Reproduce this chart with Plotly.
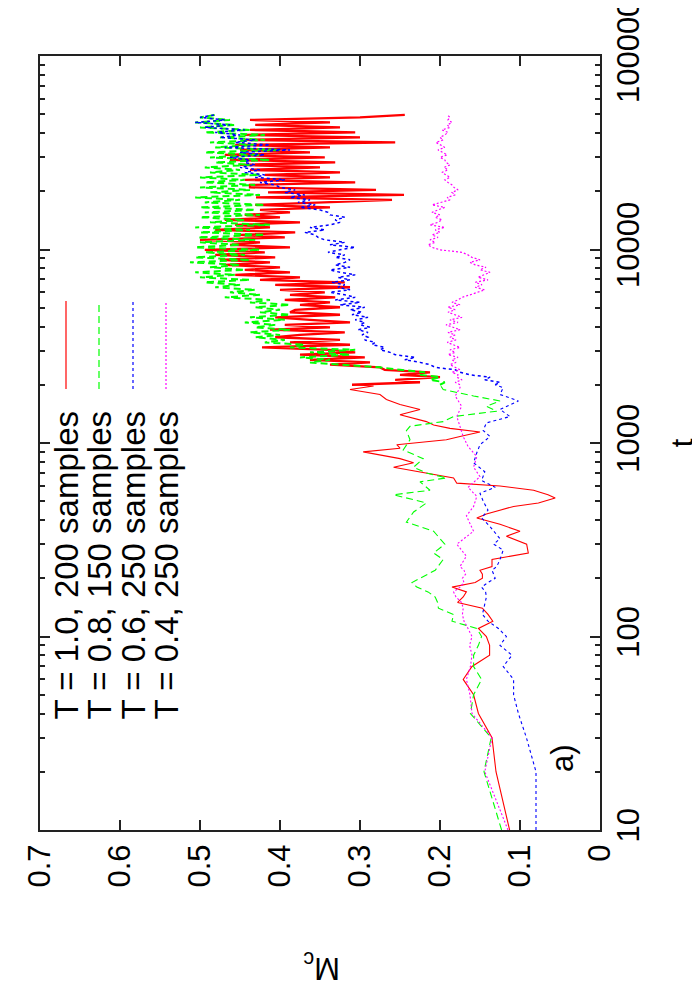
import plotly.graph_objects as go

# ---------------- data ----------------
T_LOW = [10, 20, 30, 40, 50, 60, 70, 80, 90, 100, 110, 120, 130, 140, 150, 160,
         170, 180, 190, 200, 210, 220]

T_HI = [2000, 2060, 2120, 2190, 2250, 2320, 2390, 2460, 2540, 2610,
        2690, 2770, 2860, 2940, 3030, 3120, 3220, 3310, 3410, 3520,
        3620, 3730, 3850, 3960, 4080, 4200, 4330, 4460, 4600, 4740,
        4880, 5030, 5180, 5330, 5490, 5660, 5830, 6010, 6190, 6380,
        6570, 6770, 6970, 7180, 7400, 7620, 7850, 8090, 8330, 8580,
        8840, 9110, 9380, 9670, 9960, 10260, 10570, 10890, 11220, 11550,
        11900, 12260, 12630, 13010, 13410, 13810, 14230, 14660, 15100, 15550,
        16020, 16510, 17010, 17520, 18050, 18590, 19150, 19730, 20330, 20940,
        21570, 22220, 22900, 23590, 24300, 25030, 25790, 26570, 27370, 28190,
        29050, 29920, 30830, 31760, 32710, 33700, 34720, 35770, 36850, 37960,
        39110, 40290, 41500, 42750, 44050, 45370, 46740, 48160, 49610]

# T = 1.0, 200 samples (red)
RED_LOW = [.113, .130, .135, .152, .158, .171, .160, .138, .138, .142, .152, .134,
           .140, .147, .178, .171, .167, .185, .156, .147, .147, .150]
RED_MID_T = [230, 250, 270, 300, 330, 350, 380, 410, 430, 470,
             490, 520, 540, 570, 600, 620, 660, 700, 750, 790,
             830, 900, 940, 980, 1040, 1080, 1140, 1190, 1240, 1290,
             1350, 1400, 1490, 1580, 1680, 1780, 1890, 1970]
RED_MID = [.135, .135, .0896, .0917, .117, .10, .125, .154, .142, .108,
           .077, .056, .065, .083, .125, .179, .183, .217, .258, .233,
           .25, .296, .25, .254, .192, .175, .15, .1875, .208, .217,
           .2375, .25, .225, .25, .267, .275, .3125, .283]
RED_HI = [.31, .225, .256, .20, .25, .2125, .269, .275, .3375, .2875,
          .3625, .294, .375, .306, .3375, .4225, .3125, .3875, .325, .406,
          .375, .319, .4125, .3375, .394, .3125, .3625, .406, .325, .3875,
          .381, .325, .375, .3375, .394, .331, .3875, .344, .40, .3125,
          .406, .319, .425, .375, .456, .3875, .444, .40, .469, .4125,
          .475, .406, .481, .419, .494, .3875, .4625, .425, .50, .394,
          .45, .381, .481, .4125, .456, .375, .469, .40, .444, .3875,
          .425, .3375, .431, .35, .26, .43, .245, .415, .28, .4375,
          .4375, .306, .444, .3375, .419, .325, .4375, .35, .45, .331,
          .4625, .344, .469, .3625, .45, .3375, .456, .256, .444, .30,
          .444, .306, .4375, .325, .431, .3375, .4375, .30, .244]

# T = 0.8, 150 samples (green)
GREEN_LOW = [.123, .145, .136, .162, .158, .148, .158, .158, .152, .148, .154, .185,
             .183, .202, .203, .206, .215, .229, .235, .225, .217, .206]
GREEN_MID_T = [250, 270, 300, 350, 390, 440, 490, 540, 570, 630,
               660, 700, 750, 830, 920, 1040, 1160, 1220, 1290, 1370,
               1460, 1550, 1650, 1750, 1890]
GREEN_MID = [.196, .208, .194, .208, .242, .233, .217, .258, .2125, .225,
             .192, .217, .233, .221, .246, .2375, .242, .2375, .196, .183,
             .129, .142, .125, .158, .196]
GREEN_HI = [.20, .194, .2125, .20, .225, .219, .25, .275, .325, .3625,
            .3375, .375, .3125, .3625, .306, .3875, .369, .419, .394, .431,
            .40, .4375, .3875, .431, .406, .444, .394, .4375, .3875, .425,
            .40, .431, .3875, .4375, .4125, .469, .425, .4625, .431, .481,
            .45, .494, .4375, .50, .456, .506, .444, .4875, .45, .5125,
            .4375, .506, .444, .494, .425, .506, .45, .50, .431, .5025,
            .419, .50, .4375, .506, .4125, .4875, .444, .50, .425, .494,
            .431, .50, .419, .494, .45, .506, .425, .4875, .4375, .50,
            .431, .494, .444, .50, .425, .4875, .45, .494, .4375, .481,
            .4125, .4875, .425, .494, .40, .481, .431, .4875, .419, .475,
            .419, .494, .4375, .50, .456, .506, .4625, .50, .481]

# T = 0.6, 250 samples (blue)
BLUE_LOW = [.080, .080, .092, .102, .108, .108, .121, .110, .125, .117, .127, .140,
            .147, .145, .144, .142, .143, .148, .140, .131, .133, .135]
BLUE_MID_T = [230, 250, 280, 300, 320, 370, 410, 450, 500, 550,
              590, 640, 710, 790, 890, 980, 1080, 1160, 1270, 1370,
              1490, 1650, 1780, 1930]
BLUE_MID = [.129, .125, .121, .133, .125, .1375, .148, .14, .146, .15,
            .131, .148, .144, .158, .154, .15, .1375, .146, .142, .1125,
            .125, .102, .125, .121]
BLUE_HI = [.131, .125, .144, .1375, .1625, .175, .181, .206, .2125, .225,
           .244, .231, .256, .2625, .275, .269, .285, .281, .294, .29,
           .2975, .29, .3025, .2875, .30, .294, .306, .29, .31, .2975,
           .3125, .294, .325, .30, .331, .306, .319, .3375, .3125, .3275,
           .319, .335, .3125, .3275, .306, .325, .3375, .3125, .331, .319,
           .3125, .331, .319, .34, .325, .306, .3375, .319, .344, .3525,
           .356, .369, .344, .3625, .3375, .325, .331, .319, .3375, .34,
           .35, .375, .356, .3775, .3625, .3875, .369, .394, .381, .40,
           .406, .425, .394, .431, .419, .444, .425, .45, .431, .444,
           .4375, .4625, .419, .45, .3875, .469, .4125, .456, .431, .475,
           .45, .481, .444, .494, .4625, .506, .469, .50, .481]

# T = 0.4, 250 samples (magenta)
MAG_LOW = [.115, .144, .135, .160, .1625, .167, .162, .160, .163, .160, .165, .170,
           .172, .171, .173, .180, .183, .175, .170, .172, .168, .170]
MAG_MID_T = [230, 260, 300, 350, 420, 470, 530, 590, 670, 750,
             850, 960, 1080, 1210, 1370, 1550, 1750, 1930]
MAG_MID = [.175, .167, .179, .158, .167, .158, .154, .165, .15, .158,
           .154, .165, .171, .175, .179, .173, .181, .175]
MAG_HI = [.175, .181, .1725, .179, .1775, .185, .175, .181, .1875, .18,
          .185, .1775, .19, .181, .1875, .175, .184, .191, .18, .1875,
          .181, .19, .175, .185, .1925, .1775, .1875, .1725, .181, .19,
          .181, .19, .175, .185, .1775, .1725, .1625, .1525, .144, .156,
          .1475, .156, .14, .1525, .144, .1375, .15, .1425, .156, .1625,
          .15, .16, .165, .1725, .20, .21, .215, .206, .2125, .2025,
          .21, .20, .206, .194, .2125, .2025, .1975, .206, .20, .21,
          .2025, .194, .21, .20, .1875, .191, .181, .185, .1775, .1825,
          .185, .19, .194, .1875, .1925, .1975, .19, .195, .1875, .1925,
          .194, .20, .191, .1975, .2025, .194, .20, .205, .196, .20,
          .194, .19, .1975, .1875, .191, .185, .19, .1875, .191]

LABELS = ["T = 1.0, 200 samples", "T = 0.8, 150 samples",
          "T = 0.6, 250 samples", "T = 0.4, 250 samples"]

X_TICKS = [0, 0.1, 0.2, 0.3, 0.4, 0.5, 0.6, 0.7]
X_TICK_TEXT = ["0", "0.1", "0.2", "0.3", "0.4", "0.5", "0.6", "0.7"]
Y_TICKS = [10, 100, 1000, 10000, 100000]
Y_TICK_TEXT = ["10", "100", "1000", "10000", "100000"]
Y_MINOR = [20, 30, 40, 50, 60, 70, 80, 90,
           200, 300, 400, 500, 600, 700, 800, 900,
           2000, 3000, 4000, 5000, 6000, 7000, 8000, 9000,
           20000, 30000, 40000, 50000, 60000, 70000, 80000, 90000]

# ---------------- figure ----------------
# the page body has an 8px margin: the figure is made 8px smaller per side
OFF = 8
W, H = 700 - OFF, 1000 - 2 * OFF
FL, FT, FR, FB = 40, 56, 600, 830        # frame edges in window pixels
ML, MT = FL - OFF, FT - OFF
MR = W - (FR - OFF)
MB = H - (FB - OFF)
PW, PH = FR - FL, FB - FT


def px(xw):
    return (xw - FL) / PW


def py(yw):
    return (FB - yw) / PH


RED, GREEN, BLUE, MAG = "#ff0000", "#00ff00", "#0000ff", "#ff00ff"
series = [
    (RED_LOW, RED_MID_T, RED_MID, RED_HI, RED, "solid", 2.3),
    (GREEN_LOW, GREEN_MID_T, GREEN_MID, GREEN_HI, GREEN, "7px,4px", 2.0),
    (BLUE_LOW, BLUE_MID_T, BLUE_MID, BLUE_HI, BLUE, "3px,3px", 1.5),
    (MAG_LOW, MAG_MID_T, MAG_MID, MAG_HI, MAG, "2px,2px", 1.2),
]

fig = go.Figure()
for (lo, mt, mv, hi, col, dash, whi), name in zip(series, LABELS):
    # early part (sparse, thin) joined to the first point of the dense part
    fig.add_trace(go.Scatter(x=lo + mv + hi[:1], y=T_LOW + mt + T_HI[:1],
                             mode="lines", name=name,
                             line=dict(color=col, width=1.1, dash=dash)))
    # dense late part
    fig.add_trace(go.Scatter(x=hi, y=T_HI, mode="lines", name=name,
                             line=dict(color=col, width=whi, dash=dash)))

FONT = "Liberation Sans, Arial, Helvetica, sans-serif"
FS = 31
axis_col = "#222222"

fig.update_layout(
    width=W, height=H,
    margin=dict(l=ML, r=MR, t=MT, b=MB, pad=0),
    plot_bgcolor="white", paper_bgcolor="white",
    showlegend=False,
    font=dict(family=FONT, size=FS, color="black"),
    xaxis=dict(range=[0.7, 0], tickvals=X_TICKS, ticktext=X_TICK_TEXT,
               tickangle=-90, ticks="inside", ticklen=10, tickwidth=1.5,
               tickcolor=axis_col, showline=True, linewidth=2,
               linecolor=axis_col, mirror="allticks", showgrid=False,
               zeroline=False, automargin=False, ticklabeloverflow="allow",
               tickfont=dict(size=FS, family=FONT, color="black")),
    yaxis=dict(type="log", range=[1, 5], side="right", tickvals=Y_TICKS,
               ticktext=Y_TICK_TEXT, tickangle=-90, ticks="inside",
               ticklen=10, tickwidth=1.5, tickcolor=axis_col,
               showline=True, linewidth=2, linecolor=axis_col,
               mirror="allticks", showgrid=False, zeroline=False,
               automargin=False, ticklabeloverflow="allow",
               minor=dict(tickvals=Y_MINOR, ticks="inside", ticklen=5,
                          tickwidth=1.5, tickcolor=axis_col, showgrid=False),
               tickfont=dict(size=FS, family=FONT, color="black"),
               title=dict(text="t", font=dict(size=FS, family=FONT),
                          standoff=38)),
)

# rotated legend (text + line samples)
leg_x = [66, 99, 133, 166]
colors = [RED, GREEN, BLUE, MAG]
dashes = ["solid", "7px,4px", "3px,3px", "2px,2px"]
for lx, txt, col, dsh in zip(leg_x, LABELS, colors, dashes):
    fig.add_annotation(text=txt, x=px(lx), y=py(722), xref="paper",
                       yref="paper", xanchor="center", yanchor="bottom",
                       textangle=-90, showarrow=False,
                       font=dict(size=33, family=FONT, color="black"))
    fig.add_shape(type="line", xref="paper", yref="paper",
                  x0=px(lx), x1=px(lx), y0=py(389), y1=py(301),
                  line=dict(color=col, width=1.2, dash=dsh))

fig.add_annotation(text="M<sub>c</sub>", x=px(322), y=py(966), xref="paper",
                   yref="paper", xanchor="center", yanchor="middle",
                   textangle=180, showarrow=False,
                   font=dict(size=FS, family=FONT, color="black"))
fig.add_annotation(text="a)", x=px(562), y=py(758), xref="paper",
                   yref="paper", xanchor="center", yanchor="middle",
                   textangle=-90, showarrow=False,
                   font=dict(size=FS, family=FONT, color="black"))

fig.write_html("out.html")
